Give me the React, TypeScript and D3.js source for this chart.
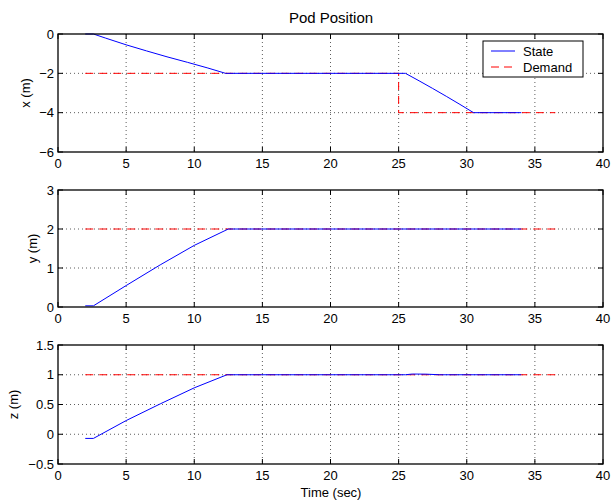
import React from "react";
import * as d3 from "d3";

const xTicks = [0, 5, 10, 15, 20, 25, 30, 35, 40];

const stateTimeX = [2, 2.6, 3.5, 5, 6.5, 8, 9.5, 11, 12.3, 25.5, 26.5, 27.5, 28.5, 29.5, 30.5, 34];
const stateX = [0, 0, -0.21, -0.55, -0.86, -1.16, -1.44, -1.73, -2, -2, -2.38, -2.77, -3.17, -3.58, -4, -4];
const demandTimeX = [2, 25, 25, 36.5];
const demandX = [-2, -2, -4, -4];

const stateTimeY = [2, 2.6, 5, 7.5, 10, 12.5, 34];
const stateY = [0.03, 0.03, 0.55, 1.08, 1.58, 2, 2];
const demandTimeY = [2, 36.5];
const demandY = [2, 2];

const stateTimeZ = [2, 2.6, 5, 7.5, 10, 12.4, 25.5, 26, 27, 28, 34];
const stateZ = [-0.07, -0.07, 0.23, 0.51, 0.78, 1, 1, 1.012, 1.01, 1, 1];
const demandTimeZ = [2, 36.5];
const demandZ = [1, 1];

const yTicksX = [0, -2, -4, -6];
const yTicksY = [0, 1, 2, 3];
const yTicksZ = [-0.5, 0, 0.5, 1, 1.5];

const legendLabels = ["State", "Demand"];

const FONT = "'Liberation Sans', Arial, Helvetica, sans-serif";

type PanelProps = {
  top: number;
  bottom: number;
  domain: [number, number];
  yTicks: number[];
  yLabel: string;
  yLabelX: number;
  st: number[];
  sv: number[];
  dt: number[];
  dv: number[];
  fmt: (v: number) => string;
};

const left = 58;
const right = 603;
const x = d3.scaleLinear().domain([0, 40]).range([left, right]);

function Panel(p: PanelProps) {
  const y = d3.scaleLinear().domain(p.domain).range([p.bottom, p.top]);
  const line = d3
    .line<[number, number]>()
    .x((d) => x(d[0]))
    .y((d) => y(d[1]));
  const sPts = p.st.map((t, i) => [t, p.sv[i]] as [number, number]);
  const dPts = p.dt.map((t, i) => [t, p.dv[i]] as [number, number]);
  const tl = 5;
  return (
    <g>
      {xTicks.slice(1, -1).map((t) => (
        <line key={"gx" + t} x1={x(t)} x2={x(t)} y1={p.top} y2={p.bottom} stroke="#333" strokeWidth={0.8} strokeDasharray="1,3" />
      ))}
      {p.yTicks.slice(1, -1).map((t) => (
        <line key={"gy" + t} x1={left} x2={right} y1={y(t)} y2={y(t)} stroke="#333" strokeWidth={0.8} strokeDasharray="1,3" />
      ))}
      <path d={line(dPts) || ""} fill="none" stroke="#ff0000" strokeWidth={1} strokeDasharray="8,6" />
      <path d={line(sPts) || ""} fill="none" stroke="#0000ff" strokeWidth={1} />
      {xTicks.map((t) => (
        <g key={"tx" + t}>
          <line x1={x(t)} x2={x(t)} y1={p.bottom} y2={p.bottom - tl} stroke="#000" />
          <line x1={x(t)} x2={x(t)} y1={p.top} y2={p.top + tl} stroke="#000" />
          <text x={x(t)} y={p.bottom + 16} textAnchor="middle" fontSize={13} fontFamily={FONT}>
            {t}
          </text>
        </g>
      ))}
      {p.yTicks.map((t) => (
        <g key={"ty" + t}>
          <line x1={left} x2={left + tl} y1={y(t)} y2={y(t)} stroke="#000" />
          <line x1={right} x2={right - tl} y1={y(t)} y2={y(t)} stroke="#000" />
          <text x={left - 4} y={y(t) + 4.5} textAnchor="end" fontSize={13} fontFamily={FONT}>
            {p.fmt(t)}
          </text>
        </g>
      ))}
      <rect x={left} y={p.top} width={right - left} height={p.bottom - p.top} fill="none" stroke="#000" strokeWidth={1.3} />
      <text
        transform={`translate(${p.yLabelX},${(p.top + p.bottom) / 2}) rotate(-90)`}
        textAnchor="middle"
        fontSize={13}
        fontFamily={FONT}
      >
        {p.yLabel}
      </text>
    </g>
  );
}

const fmtMinus = (v: number) => (v < 0 ? "\u2212" + String(-v) : String(v));

export default function App() {
  return (
    <svg width={611} height={500} style={{ position: "absolute", left: 0, top: 0, background: "#fff" }}>
      <rect x={0} y={0} width={611} height={500} fill="#fff" />
      <text x={331} y={23} textAnchor="middle" fontSize={15} fontFamily={FONT}>
        Pod Position
      </text>
      <Panel top={34} bottom={152} domain={[-6, 0]} yTicks={yTicksX} yLabel="x (m)" yLabelX={30} st={stateTimeX} sv={stateX} dt={demandTimeX} dv={demandX} fmt={fmtMinus} />
      <Panel top={190} bottom={307} domain={[0, 3]} yTicks={yTicksY} yLabel="y (m)" yLabelX={37} st={stateTimeY} sv={stateY} dt={demandTimeY} dv={demandY} fmt={fmtMinus} />
      <Panel top={345} bottom={464} domain={[-0.5, 1.5]} yTicks={yTicksZ} yLabel="z (m)" yLabelX={18} st={stateTimeZ} sv={stateZ} dt={demandTimeZ} dv={demandZ} fmt={fmtMinus} />
      <text x={331} y={497} textAnchor="middle" fontSize={13} fontFamily={FONT}>
        Time (sec)
      </text>
      <g>
        <rect x={483} y={41} width={100} height={36} fill="#fff" stroke="#000" strokeWidth={1} />
        <line x1={491} x2={515} y1={51} y2={51} stroke="#0000ff" />
        <line x1={491} x2={515} y1={67} y2={67} stroke="#ff0000" strokeDasharray="8,5" />
        {legendLabels.map((l, i) => (
          <text key={l} x={523} y={55.5 + i * 16} fontSize={13} fontFamily={FONT}>
            {l}
          </text>
        ))}
      </g>
    </svg>
  );
}
